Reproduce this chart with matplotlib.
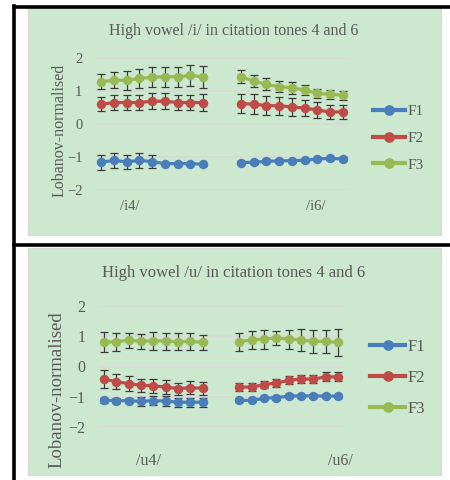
import numpy as np
import matplotlib
matplotlib.use('Agg')
from matplotlib import pyplot as plt
from matplotlib.patches import Rectangle
from matplotlib.lines import Line2D

plt.rcParams['font.family'] = ['Liberation Serif', 'DejaVu Serif']

# ---- data ----
idx_a = np.arange(9)          # first tone, categories 0..8
idx_b = np.arange(9) + 11     # second tone, categories 11..19

i4_f1 = [-1.16, -1.10, -1.15, -1.10, -1.14, -1.20, -1.20, -1.20, -1.22]
i4_f1_err = [0.22, 0.22, 0.22, 0.22, 0.20, 0.04, 0.04, 0.04, 0.05]
i4_f2 = [0.60, 0.65, 0.65, 0.65, 0.69, 0.69, 0.65, 0.65, 0.65]
i4_f2_err = [0.22, 0.23, 0.23, 0.23, 0.24, 0.24, 0.23, 0.24, 0.25]
i4_f3 = [1.28, 1.33, 1.32, 1.38, 1.42, 1.43, 1.43, 1.47, 1.43]
i4_f3_err = [0.22, 0.25, 0.28, 0.28, 0.30, 0.30, 0.30, 0.32, 0.33]

i6_f1 = [-1.17, -1.16, -1.13, -1.12, -1.11, -1.10, -1.06, -1.04, -1.06]
i6_f1_err = [0.05, 0.05, 0.06, 0.05, 0.05, 0.04, 0.04, 0.04, 0.05]
i6_f2 = [0.62, 0.60, 0.56, 0.55, 0.52, 0.48, 0.43, 0.36, 0.37]
i6_f2_err = [0.30, 0.30, 0.29, 0.28, 0.28, 0.25, 0.25, 0.22, 0.22]
i6_f3 = [1.43, 1.30, 1.20, 1.13, 1.10, 1.03, 0.93, 0.90, 0.87]
i6_f3_err = [0.20, 0.19, 0.18, 0.17, 0.18, 0.16, 0.14, 0.13, 0.14]

u4_f1 = [-1.12, -1.13, -1.13, -1.15, -1.13, -1.14, -1.18, -1.18, -1.18]
u4_f1_err = [0.08, 0.08, 0.08, 0.15, 0.15, 0.15, 0.15, 0.15, 0.15]
u4_f2 = [-0.42, -0.50, -0.57, -0.62, -0.64, -0.68, -0.73, -0.70, -0.72]
u4_f2_err = [0.29, 0.26, 0.24, 0.22, 0.22, 0.22, 0.20, 0.22, 0.22]
u4_f3 = [0.80, 0.82, 0.87, 0.83, 0.85, 0.84, 0.82, 0.83, 0.80]
u4_f3_err = [0.33, 0.30, 0.25, 0.25, 0.29, 0.28, 0.28, 0.27, 0.25]

u6_f1 = [-1.12, -1.12, -1.05, -1.03, -0.98, -0.97, -0.97, -0.98, -0.98]
u6_f1_err = [0.07, 0.07, 0.07, 0.07, 0.07, 0.07, 0.07, 0.07, 0.07]
u6_f2 = [-0.68, -0.68, -0.60, -0.54, -0.46, -0.41, -0.42, -0.34, -0.34]
u6_f2_err = [0.12, 0.12, 0.12, 0.13, 0.13, 0.14, 0.14, 0.15, 0.15]
u6_f3 = [0.82, 0.88, 0.90, 0.95, 0.90, 0.88, 0.83, 0.83, 0.80]
u6_f3_err = [0.30, 0.31, 0.31, 0.24, 0.31, 0.37, 0.37, 0.37, 0.45]

series_names = ['F1', 'F2', 'F3']
colors = ['#4A7EBB', '#BE4B48', '#98B954']

W, H = 450, 480
fig = plt.figure(figsize=(W / 100, H / 100), dpi=100)
fig.patch.set_facecolor('white')

def px_rect(l, t, r, b):
    # pixel box (from top-left) -> figure fraction [left, bottom, width, height]
    return [l / W, 1 - b / H, (r - l) / W, (b - t) / H]

# panel backgrounds
for l, t, r, b in [(28, 7, 441, 235), (28, 248, 441, 475)]:
    x0, y0, w, h = px_rect(l, t, r, b)
    fig.patches.append(Rectangle((x0, y0), w, h, transform=fig.transFigure,
                                 facecolor='#CCE8CF', edgecolor='#D9D9D9', lw=1, zorder=-2))

# black frame lines
for xs, ys in [((14, 450), (6.5, 6.5)), ((14, 14), (6, 480)), ((14, 450), (244.5, 244.5))]:
    fig.lines.append(Line2D([x / W for x in xs], [1 - y / H for y in ys],
                            transform=fig.transFigure, color='black', lw=2.6, zorder=5))


def panel(box, title, title_xy, title_fs, data, ticks, ticklabels, tick_pad, fs, ylab_fs,
          ylab_xy, legend_xy, lspace):
    ax = fig.add_axes(px_rect(*box))
    ax.set_zorder(1)
    ax.set_facecolor('none')
    for s in ax.spines.values():
        s.set_visible(False)
    ax.set_xlim(-0.5, 19.5)
    ax.set_ylim(-2, 2)
    ax.set_yticks([-2, -1, 0, 1, 2])
    ax.yaxis.grid(True, color='#D9D9D9', lw=1.1)
    ax.set_axisbelow(True)
    ax.tick_params(axis='y', length=0, pad=9, labelsize=fs, labelcolor='#595959')
    ax.set_xticks(ticks)
    ax.set_xticklabels(ticklabels)
    ax.tick_params(axis='x', length=0, pad=tick_pad, labelsize=fs, labelcolor='#595959')
    ax.set_ylabel('Lobanov-normalised', fontsize=ylab_fs, color='#595959')
    l, t, r, b = box
    ax.yaxis.set_label_coords((ylab_xy[0] - l) / (r - l), (b - ylab_xy[1]) / (b - t))

    handles = []
    for k in range(3):
        for xs, (vals, errs) in zip((idx_a, idx_b), data[k]):
            ax.errorbar(xs, vals, yerr=errs, fmt='none', ecolor='#3A3A3A',
                        elinewidth=0.9, capsize=3.0, capthick=0.9, zorder=2, clip_on=False)
            h, = ax.plot(xs, vals, color=colors[k], lw=2.3, marker='o', ms=5.8,
                         zorder=3, clip_on=False)
        handles.append(h)

    fig.text(title_xy[0] / W, 1 - title_xy[1] / H, title, ha='center', va='center',
             fontsize=title_fs, color='#595959', zorder=3)
    leg = fig.legend(handles, series_names, loc='center left',
                     bbox_to_anchor=(legend_xy[0] / W, 1 - legend_xy[1] / H),
                     frameon=False, fontsize=fs + 0.5, handlelength=2.1, handletextpad=0.15,
                     borderpad=0, borderaxespad=0,
                     labelspacing=lspace, labelcolor='#595959', markerscale=1.15)
    leg.set_zorder(3)
    for ln in leg.get_lines():
        ln.set_linewidth(3.0)
    return ax


panel((95, 58, 349, 190), 'High vowel /i/ in citation tones 4 and 6', (234, 31), 11.5,
      [[(i4_f1, i4_f1_err), (i6_f1, i6_f1_err)],
       [(i4_f2, i4_f2_err), (i6_f2, i6_f2_err)],
       [(i4_f3, i4_f3_err), (i6_f3, i6_f3_err)]],
      [2.2, 16.9], ['/i4/', '/i6/'], 7, 10.5, 11.5, (68, 130), (373, 138), 0.85)

panel((98, 306, 344, 427), 'High vowel /u/ in citation tones 4 and 6', (234, 273), 12,
      [[(u4_f1, u4_f1_err), (u6_f1, u6_f1_err)],
       [(u4_f2, u4_f2_err), (u6_f2, u6_f2_err)],
       [(u4_f3, u4_f3_err), (u6_f3, u6_f3_err)]],
      [3.6, 19.2], ['/u4/', '/u6/'], 19, 11.5, 13.5, (65, 390), (370, 378), 0.9)

fig.savefig('out.png', dpi=100)
